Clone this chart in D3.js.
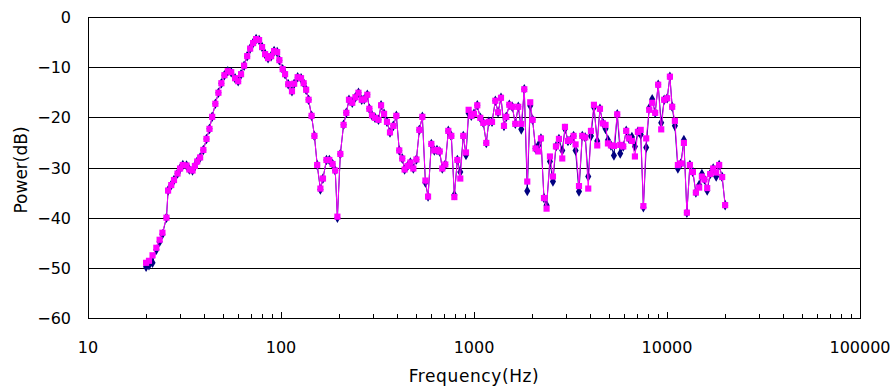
<!DOCTYPE html>
<html lang="en">
<head>
<meta charset="utf-8">
<script src="https://d3js.org/d3.v7.min.js"></script>
<style>
  body { margin: 0; background: #fff; }
  text { font-family: "DejaVu Sans", sans-serif; fill: #000; }
</style>
<title>Power spectrum</title>
</head>
<body>
<div id="chart"></div>
<script>
// frequency points (Hz)
var freqs = [20.0,20.7,21.6,22.6,23.5,24.3,25.5,26.0,27.0,27.9,
  29.1,30.0,31.0,32.4,33.5,34.8,35.8,36.8,38.1,39.6,
  41.1,42.6,44.0,45.7,47.4,49.1,50.9,53.0,55.2,57.8,
  60.0,62.1,64.4,66.8,69.2,71.7,74.3,77.0,79.8,82.7,
  85.7,88.9,92.1,95.5,98.1,102,105,109,114,117,
  122,127,131,135,139,144,149,154,160,165,
  172,178,185,191,196,203,211,218,225,234,
  243,252,262,270,280,287,296,307,320,330,
  342,354,367,382,396,410,425,437,453,468,
  485,503,521,540,560,578,601,623,643,664,
  685,710,736,763,791,820,849,880,909,938,
  968,1000,1040,1078,1117,1158,1193,1240,1290,1333,
  1380,1430,1470,1524,1579,1637,1696,1758,1822,1888,
  1956,2012,2084,2153,2223,2304,2377,2475,2565,2658,
  2755,2866,2960,3068,3164,3280,3359,3499,3639,3772,
  3908,4036,4183,4351,4494,4658,4804,4943,5123,5309,
  5523,5724,5932,6148,6349,6580,6820,7068,7307,7546,
  7803,8087,8381,8686,9002,9333,9672,10024,10351,10639,
  10987,11387,11803,12232,12677,13139,13617,14113,14680,15161,
  15641,16153,16740,17350,17980,18634,19313,20011];

// series 1 (navy diamonds)
var powerA = [-49.8,-49.5,-49.0,-46.4,-44.8,-43.3,-40.0,-34.6,-33.5,-32.5,
  -31.2,-30.2,-29.5,-29.6,-30.4,-30.6,-29.7,-28.8,-28.0,-26.5,
  -24.3,-22.3,-19.9,-17.3,-15.1,-13.2,-11.6,-10.8,-11.0,-12.2,
  -12.8,-11.4,-9.7,-7.8,-6.3,-5.2,-4.4,-4.6,-6.0,-7.4,
  -8.2,-7.8,-6.8,-7.0,-8.6,-10.4,-11.4,-13.4,-14.8,-13.3,
  -12.0,-12.2,-13.2,-14.5,-16.5,-19.7,-23.7,-29.5,-34.4,-32.2,
  -28.5,-28.5,-29.3,-30.6,-40.0,-27.3,-21.5,-19.1,-16.5,-17.1,
  -16.0,-15.1,-16.5,-16.4,-15.5,-18.3,-19.6,-20.1,-20.5,-17.6,
  -19.3,-20.9,-23.0,-21.7,-19.7,-26.6,-28.2,-30.4,-29.7,-29.0,
  -30.2,-28.4,-22.5,-19.9,-33.0,-35.8,-25.3,-26.6,-26.5,-26.8,
  -30.2,-29.4,-22.7,-23.7,-35.5,-28.5,-30.9,-23.7,-27.5,-19.2,
  -19.7,-19.3,-17.6,-20.1,-21.1,-25.1,-20.9,-20.9,-16.7,-19.0,
  -16.1,-21.7,-19.9,-17.5,-17.9,-21.3,-17.9,-22.4,-14.4,-34.7,
  -17.7,-20.5,-26.2,-25.6,-24.2,-36.1,-37.5,-28.8,-32.8,-25.8,
  -24.3,-26.6,-22.3,-24.7,-24.5,-23.7,-26.6,-34.8,-23.7,-24.0,
  -31.8,-23.7,-18.0,-24.7,-18.3,-21.2,-22.3,-24.5,-25.6,-27.6,
  -19.4,-27.2,-25.8,-22.7,-24.2,-23.9,-25.8,-22.9,-23.4,-37.9,
  -26.0,-18.2,-16.4,-19.1,-13.5,-21.1,-16.5,-16.2,-11.9,-17.9,
  -21.7,-30.2,-29.2,-24.5,-39.0,-29.5,-30.9,-35.0,-33.5,-31.3,
  -32.4,-34.6,-31.3,-30.2,-31.8,-29.5,-31.9,-37.5];

// series 2 (magenta squares)
var powerB = [-49.0,-48.6,-47.5,-46.0,-44.4,-43.0,-40.0,-34.6,-33.5,-32.5,
  -31.2,-30.2,-29.5,-29.6,-30.4,-30.6,-29.7,-28.8,-28.0,-26.5,
  -24.3,-22.3,-19.9,-17.3,-15.1,-13.2,-11.6,-10.8,-11.0,-12.2,
  -12.8,-11.4,-9.7,-7.8,-6.3,-5.2,-4.4,-4.6,-6.0,-7.4,
  -8.2,-7.8,-6.8,-7.0,-8.6,-10.4,-11.4,-13.4,-14.8,-13.3,
  -12.0,-12.2,-13.2,-14.5,-16.5,-19.7,-23.7,-29.5,-34.2,-32.2,
  -28.5,-28.5,-29.3,-30.6,-39.8,-27.3,-21.5,-19.1,-16.5,-17.1,
  -16.0,-15.1,-16.5,-16.4,-15.5,-18.3,-19.6,-20.1,-20.5,-17.6,
  -19.3,-20.9,-23.0,-21.7,-19.7,-26.6,-28.2,-30.4,-29.7,-29.0,
  -30.2,-28.4,-22.5,-19.9,-32.6,-35.8,-25.3,-26.6,-26.5,-26.8,
  -30.2,-29.4,-22.7,-23.7,-35.9,-28.5,-32.2,-23.7,-27.0,-18.5,
  -19.7,-19.3,-17.6,-20.1,-21.1,-25.1,-20.9,-20.9,-16.7,-19.0,
  -16.1,-21.7,-19.9,-17.5,-17.9,-21.3,-17.9,-21.3,-14.4,-32.8,
  -17.0,-20.5,-26.2,-26.8,-24.2,-36.1,-38.2,-27.8,-31.8,-25.8,
  -24.3,-28.2,-21.9,-24.7,-24.5,-23.7,-25.4,-33.7,-23.7,-24.0,
  -34.2,-22.7,-17.5,-25.6,-18.3,-21.2,-21.5,-25.2,-25.6,-25.7,
  -19.4,-25.5,-25.8,-22.7,-24.2,-24.7,-27.8,-22.9,-22.5,-37.7,
  -24.2,-18.5,-17.1,-19.1,-13.5,-22.4,-16.5,-16.2,-11.9,-17.9,
  -20.7,-29.5,-29.2,-25.1,-39.0,-29.5,-30.9,-35.0,-34.0,-31.8,
  -32.4,-34.1,-31.3,-30.2,-31.0,-29.5,-31.9,-37.5];

var xTicks = [10, 100, 1000, 10000, 100000];
var yTicks = [-60, -50, -40, -30, -20, -10, 0];

var width = 892, height = 388;
var plotL = 88, plotR = 860, plotT = 17, plotB = 318;

var svg = d3.select("#chart").append("svg")
  .attr("width", width).attr("height", height);

var x = d3.scaleLog().domain([10, 100000]).range([plotL, plotR]);
var y = d3.scaleLinear().domain([-60, 0]).range([plotB, plotT]);

// horizontal gridlines
svg.append("g").selectAll("line")
  .data(yTicks.slice(1, -1))
  .join("line")
  .attr("x1", plotL).attr("x2", plotR)
  .attr("y1", function(d) { return Math.round(y(d)) + 0.5; })
  .attr("y2", function(d) { return Math.round(y(d)) + 0.5; })
  .attr("stroke", "#000").attr("stroke-width", 1);

// plot border
svg.append("rect")
  .attr("x", plotL + 0.5).attr("y", plotT + 0.5)
  .attr("width", plotR - plotL).attr("height", plotB - plotT)
  .attr("fill", "none").attr("stroke", "#000");

// x ticks, major and minor, pointing up into the plot
var allTicks = x.ticks();
svg.append("g").selectAll("line")
  .data(allTicks)
  .join("line")
  .attr("x1", function(d) { return Math.round(x(d)) + 0.5; })
  .attr("x2", function(d) { return Math.round(x(d)) + 0.5; })
  .attr("y1", plotB + 0.5)
  .attr("y2", function(d) { return xTicks.indexOf(d) >= 0 ? plotB - 6 : plotB - 4; })
  .attr("stroke", "#000");

// tick labels
svg.append("g").selectAll("text")
  .data(xTicks)
  .join("text")
  .attr("x", function(d) { return x(d); })
  .attr("y", 353)
  .attr("text-anchor", "middle")
  .style("font-size", "16px")
  .text(function(d) { return d; });

svg.append("g").selectAll("text")
  .data(yTicks)
  .join("text")
  .attr("x", 71)
  .attr("y", function(d) { return y(d) + 6; })
  .attr("text-anchor", "end")
  .style("font-size", "16px")
  .text(function(d) { return d < 0 ? "\u2212" + (-d) : d; });

// axis titles
svg.append("text")
  .attr("x", 474).attr("y", 382)
  .attr("text-anchor", "middle")
  .style("font-size", "17px")
  .style("letter-spacing", "0.6px")
  .text("Frequency(Hz)");

svg.append("text")
  .attr("transform", "translate(27,170) rotate(-90)")
  .attr("text-anchor", "middle")
  .style("font-size", "17px")
  .text("Power(dB)");

// series
var series = [
  { values: powerA, color: "#000080", symbol: d3.symbolDiamond, size: 32 },
  { values: powerB, color: "#ff00ff", symbol: d3.symbolSquare, size: 38 }
];

var line = d3.line()
  .x(function(d) { return x(d[0]); })
  .y(function(d) { return y(d[1]); });

series.forEach(function(s) {
  var pts = freqs.map(function(f, i) { return [f, s.values[i]]; });
  var g = svg.append("g");
  g.append("path")
    .attr("d", line(pts))
    .attr("fill", "none")
    .attr("stroke", s.color)
    .attr("stroke-width", 1);
  g.selectAll("path.pt")
    .data(pts)
    .join("path")
    .attr("class", "pt")
    .attr("transform", function(d) { return "translate(" + x(d[0]) + "," + y(d[1]) + ")"; })
    .attr("d", d3.symbol().type(s.symbol).size(s.size))
    .attr("fill", s.color);
});
</script>
</body>
</html>
